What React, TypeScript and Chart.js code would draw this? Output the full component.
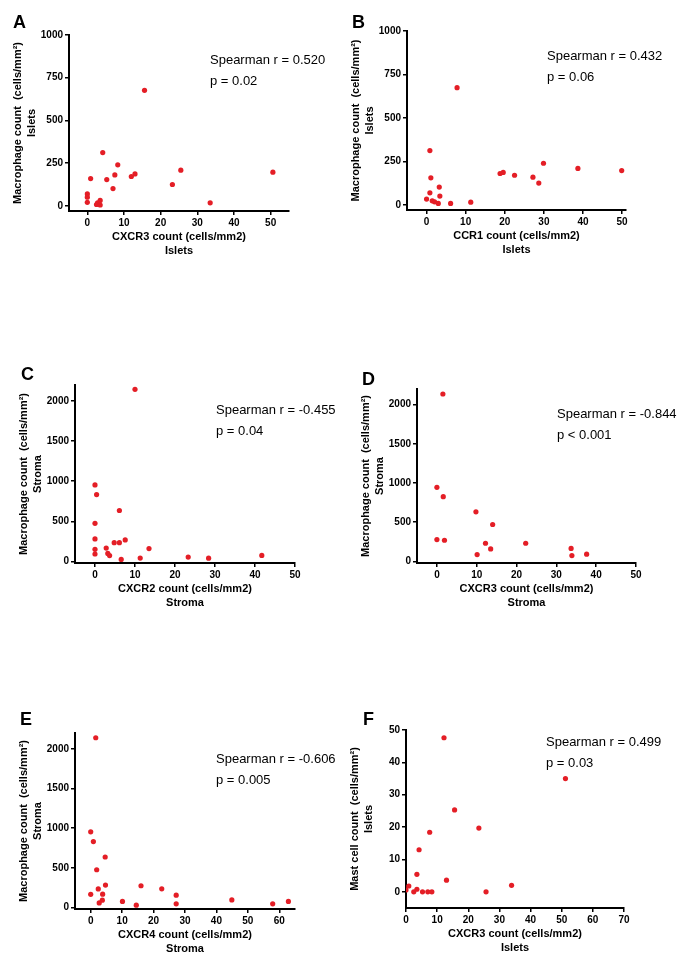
import React, { useEffect, useRef } from "react";
import { Chart, registerables } from "chart.js";

Chart.register(...registerables);

const FONT = "'Liberation Sans', Arial, Helvetica, sans-serif";
const RED = "#e41e26";

// ---- Panel A: CXCR3 (islets) vs macrophage (islets)
const aX = [0, 0, 0, 0.9, 2.5, 2.8, 3.5, 3.5, 4.2, 5.3, 7.0, 7.5, 8.3, 12.0, 13.0, 15.6, 23.2, 25.5, 33.5, 50.6];
const aY = [70, 51, 21, 160, 8, 18, 5, 32, 312, 154, 101, 181, 240, 172, 187, 676, 125, 209, 18, 197];

// ---- Panel B: CCR1 (islets) vs macrophage (islets)
const bX = [0, 0.85, 1.1, 0.85, 1.45, 2.05, 3.0, 3.25, 3.4, 6.15, 7.8, 11.3, 18.8, 19.6, 22.5, 27.2, 28.7, 29.9, 38.7, 49.9];
const bY = [33, 312, 155, 69, 23, 17, 8, 102, 50, 8, 674, 15, 180, 186, 170, 159, 125, 239, 209, 197];

// ---- Panel C: CXCR2 (stroma) vs macrophage (stroma)
const cX = [10.0, 0, 0.4, 6.1, 0, 0, 0, 0, 2.8, 3.2, 3.65, 4.8, 6.1, 7.55, 13.5, 6.55, 11.3, 23.3, 28.4, 41.7];
const cY = [2146, 954, 833, 635, 475, 280, 150, 92, 166, 100, 73, 233, 233, 268, 160, 25, 42, 54, 40, 75];

// ---- Panel D: CXCR3 (stroma) vs macrophage (stroma)
const dX = [1.5, 0, 1.6, 9.8, 14.0, 0, 1.9, 12.2, 13.5, 22.3, 10.1, 33.7, 33.9, 37.6];
const dY = [2136, 945, 826, 633, 471, 279, 270, 232, 160, 232, 87, 166, 75, 93];

// ---- Panel E: CXCR4 (stroma) vs macrophage (stroma)
const eX = [1.6, 0, 0.85, 4.6, 1.9, 0, 2.4, 3.8, 2.7, 3.7, 4.7, 10.1, 14.5, 16.0, 22.6, 27.2, 27.2, 44.9, 57.9, 62.9];
const eY = [2140, 953, 830, 636, 475, 165, 233, 167, 57, 91, 282, 76, 28, 273, 235, 155, 45, 95, 45, 76];

// ---- Panel F: CXCR3 (islets) vs mast cells (islets)
const fX = [0, 0.9, 2.5, 3.5, 3.5, 4.2, 5.3, 7.0, 7.6, 8.3, 12.2, 13.0, 15.6, 23.4, 25.7, 33.9, 51.2];
const fY = [0.6, 1.8, 0, 0.8, 5.4, 13.0, 0, 0, 18.4, 0, 47.6, 3.6, 25.3, 19.7, 0, 2.0, 35.0];

// ---- Tick labels
const ticks0to50 = [0, 10, 20, 30, 40, 50];
const ticks0to60 = [0, 10, 20, 30, 40, 50, 60];
const ticks0to70 = [0, 10, 20, 30, 40, 50, 60, 70];
const ticksIslets = [0, 250, 500, 750, 1000];
const ticksStroma = [0, 500, 1000, 1500, 2000];
const ticksMast = [0, 10, 20, 30, 40, 50];

// ---- Titles and statistics
const yMacro = "Macrophage count  (cells/mm\u00B2)";
const yMast = "Mast cell count  (cells/mm\u00B2)";
const letters = ["A", "B", "C", "D", "E", "F"];
const spearmanR = ["0.520", "0.432", "-0.455", "-0.844", "-0.606", "0.499"];
const pValues = ["p = 0.02", "p = 0.06", "p = 0.04", "p < 0.001", "p = 0.005", "p = 0.03"];

type PanelDef = {
  box: [number, number, number, number];
  xs: number[];
  ys: number[];
  xRange: [number, number];
  yRange: [number, number];
  xTicks: number[];
  yTicks: number[];
  xTitle: string[];
  yTitle: string[];
  letterPos: [number, number];
  statPos: [number, number];
};

const panels: PanelDef[] = [
  {
    box: [11, 23, 298, 235], xs: aX, ys: aY, xRange: [-5, 55], yRange: [-30, 1000],
    xTicks: ticks0to50, yTicks: ticksIslets,
    xTitle: ["CXCR3 count (cells/mm2)", "Islets"], yTitle: [yMacro, "Islets"],
    letterPos: [13, 12.6], statPos: [210, 48.6],
  },
  {
    box: [349, 19, 297, 238], xs: bX, ys: bY, xRange: [-5, 51], yRange: [-30, 1000],
    xTicks: ticks0to50, yTicks: ticksIslets,
    xTitle: ["CCR1 count (cells/mm2)", "Islets"], yTitle: [yMacro, "Islets"],
    letterPos: [352, 12.6], statPos: [547, 44.6],
  },
  {
    box: [17, 373, 298, 237], xs: cX, ys: cY, xRange: [-5, 50], yRange: [-20, 2200],
    xTicks: ticks0to50, yTicks: ticksStroma,
    xTitle: ["CXCR2 count (cells/mm2)", "Stroma"], yTitle: [yMacro, "Stroma"],
    letterPos: [21, 364.6], statPos: [216, 398.6],
  },
  {
    box: [359, 377, 297, 233], xs: dX, ys: dY, xRange: [-5, 50], yRange: [-20, 2200],
    xTicks: ticks0to50, yTicks: ticksStroma,
    xTitle: ["CXCR3 count (cells/mm2)", "Stroma"], yTitle: [yMacro, "Stroma"],
    letterPos: [362, 369.6], statPos: [557, 402.6],
  },
  {
    box: [17, 721, 298, 235], xs: eX, ys: eY, xRange: [-5, 65], yRange: [-20, 2200],
    xTicks: ticks0to60, yTicks: ticksStroma,
    xTitle: ["CXCR4 count (cells/mm2)", "Stroma"], yTitle: [yMacro, "Stroma"],
    letterPos: [20, 709.6], statPos: [216, 747.6],
  },
  {
    box: [348, 718, 296, 237], xs: fX, ys: fY, xRange: [0, 70], yRange: [-5, 50],
    xTicks: ticks0to70, yTicks: ticksMast,
    xTitle: ["CXCR3 count (cells/mm2)", "Islets"], yTitle: [yMast, "Islets"],
    letterPos: [363, 709.6], statPos: [546, 730.6],
  },
];

function Panel({ def }: { def: PanelDef }) {
  const ref = useRef<HTMLCanvasElement>(null);
  useEffect(() => {
    const tickFont = { size: 10, weight: "bold" as const, family: FONT };
    const titleFont = { size: 11, weight: "bold" as const, family: FONT, lineHeight: 14 / 11 };
    const chart = new Chart(ref.current!, {
      type: "scatter",
      data: {
        datasets: [
          {
            data: def.xs.map((x, i) => ({ x, y: def.ys[i] })),
            backgroundColor: RED,
            borderWidth: 0,
            pointRadius: 2.6,
            pointHoverRadius: 2.6,
          },
        ],
      },
      options: {
        animation: false,
        responsive: true,
        maintainAspectRatio: false,
        events: [],
        layout: { padding: { top: 12, right: 20, bottom: 0, left: 0 } },
        plugins: { legend: { display: false }, tooltip: { enabled: false } },
        scales: {
          x: {
            type: "linear",
            min: def.xRange[0],
            max: def.xRange[1],
            afterBuildTicks: (s: any) => {
              s.ticks = def.xTicks.map((v) => ({ value: v }));
            },
            afterFit: (s: any) => {
              s.height = 47;
            },
            ticks: {
              callback: (v: any) => String(v),
              font: tickFont,
              color: "#000",
              padding: 2,
              autoSkip: false,
              maxRotation: 0,
            },
            grid: { drawOnChartArea: false, drawTicks: true, tickLength: 4, color: "#000", lineWidth: 1.5 },
            border: { display: true, color: "#000", width: 2 },
            title: { display: true, text: def.xTitle, font: titleFont, color: "#000", padding: 0 },
          },
          y: {
            type: "linear",
            min: def.yRange[0],
            max: def.yRange[1],
            afterBuildTicks: (s: any) => {
              s.ticks = def.yTicks.map((v) => ({ value: v }));
            },
            afterFit: (s: any) => {
              s.width = 58;
            },
            ticks: {
              callback: (v: any) => String(v),
              font: tickFont,
              color: "#000",
              padding: 2,
              autoSkip: false,
            },
            grid: { drawOnChartArea: false, drawTicks: true, tickLength: 4, color: "#000", lineWidth: 1.5 },
            border: { display: true, color: "#000", width: 2 },
            title: { display: true, text: def.yTitle, font: titleFont, color: "#000", padding: 0 },
          },
        },
      },
    } as any);
    return () => chart.destroy();
  }, [def]);
  const [left, top, width, height] = def.box;
  return (
    <div style={{ position: "absolute", left, top, width, height }}>
      <canvas ref={ref} />
    </div>
  );
}

export default function App() {
  useEffect(() => {
    document.body.style.margin = "0";
  }, []);
  return (
    <div style={{ position: "relative", width: 685, height: 958, background: "#fff", fontFamily: FONT }}>
      {panels.map((p, i) => (
        <Panel key={i} def={p} />
      ))}
      {panels.map((p, i) => (
        <div
          key={"l" + i}
          style={{
            position: "absolute",
            left: p.letterPos[0],
            top: p.letterPos[1],
            fontSize: 18,
            lineHeight: "18px",
            fontWeight: "bold",
            color: "#000",
          }}
        >
          {letters[i]}
        </div>
      ))}
      {panels.map((p, i) => (
        <div
          key={"s" + i}
          style={{
            position: "absolute",
            left: p.statPos[0],
            top: p.statPos[1],
            fontSize: 13,
            lineHeight: "21px",
            color: "#000",
            whiteSpace: "nowrap",
          }}
        >
          <div>{"Spearman r = " + spearmanR[i]}</div>
          <div>{pValues[i]}</div>
        </div>
      ))}
    </div>
  );
}
